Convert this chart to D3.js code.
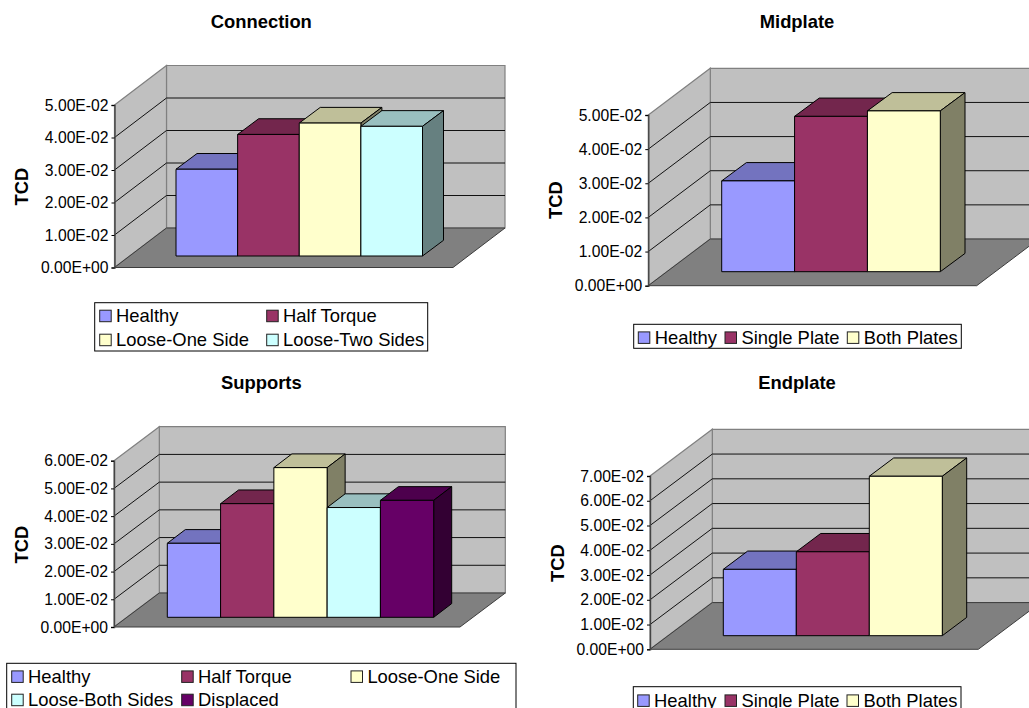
<!DOCTYPE html>
<html>
<head>
<meta charset="utf-8">
<script src="https://cdn.jsdelivr.net/npm/d3@7"></script>
<style>
  html, body { margin: 0; padding: 0; background: #fff; overflow: hidden; }
  svg { display: block; font-family: "Liberation Sans", Arial, sans-serif; }
</style>
</head>
<body>
<svg id="chart" width="1029" height="708"></svg>
<script>
// Total category distortion by fault type, one 3-D column panel per location.
const connectionCategories = ["Healthy", "Half Torque", "Loose-One Side", "Loose-Two Sides"];
const connectionValues = [0.0267, 0.0374, 0.0409, 0.0399];
const connectionTicks = [0, 0.01, 0.02, 0.03, 0.04, 0.05];

const midplateCategories = ["Healthy", "Single Plate", "Both Plates"];
const midplateValues = [0.0266, 0.0455, 0.0471];
const midplateTicks = [0, 0.01, 0.02, 0.03, 0.04, 0.05];

const supportsCategories = ["Healthy", "Half Torque", "Loose-One Side", "Loose-Both Sides", "Displaced"];
const supportsValues = [0.0267, 0.0410, 0.0540, 0.0396, 0.0422];
const supportsTicks = [0, 0.01, 0.02, 0.03, 0.04, 0.05, 0.06];

const endplateCategories = ["Healthy", "Single Plate", "Both Plates"];
const endplateValues = [0.0268, 0.0339, 0.0644];
const endplateTicks = [0, 0.01, 0.02, 0.03, 0.04, 0.05, 0.06, 0.07];

const seriesColors = ["#9999FF", "#993366", "#FFFFCC", "#CCFFFF", "#660066"];

// Frame geometry for each panel; values come from the arrays above.
const panels = [
  { title: "Connection", categories: connectionCategories, values: connectionValues, ticks: connectionTicks,
    frame: { left: 114.5, right: 453, bottom: 267.5, top: 105, dx: 52, dy: 39.5 },
    bars: { left: 161, right: 407.5, base: 256, dx: 21, dy: 15.7, shift: 15 },
    titleAt: [261.3, 27.7], axisLabelAt: [28, 186.7],
    legend: { box: [94.7, 302.7, 333, 48.3], swatchX: [99.7, 266.7], rowY: [316, 340], cols: 2 } },
  { title: "Midplate", categories: midplateCategories, values: midplateValues, ticks: midplateTicks,
    frame: { left: 648.3, right: 976.7, bottom: 285.7, top: 115, dx: 62, dy: 46.7 },
    bars: { left: 703.1, right: 921.7, base: 271.7, dx: 24.7, dy: 18.3, shift: 18.6 },
    titleAt: [797, 27.7], axisLabelAt: [562, 200],
    legend: { box: [633.7, 324.3, 327.6, 24], swatchX: [638.3, 725, 847.3], rowY: [337.7], cols: 3 } },
  { title: "Supports", categories: supportsCategories, values: supportsValues, ticks: supportsTicks,
    frame: { left: 114, right: 460, bottom: 627, top: 460.7, dx: 45.3, dy: 34 },
    bars: { left: 155.3, right: 421.7, base: 617.3, dx: 18, dy: 13.7, shift: 12 },
    titleAt: [261.3, 389], axisLabelAt: [28, 544.7],
    legend: { box: [6.7, 663.3, 509.3, 60], swatchX: [11.7, 181.7, 351], rowY: [676.7, 700], cols: 3 } },
  { title: "Endplate", categories: endplateCategories, values: endplateValues, ticks: endplateTicks,
    frame: { left: 650, right: 978.3, bottom: 649.3, top: 476, dx: 62.3, dy: 46.7 },
    bars: { left: 704.7, right: 923.7, base: 635.7, dx: 24.4, dy: 18.3, shift: 18.6 },
    titleAt: [797, 389], axisLabelAt: [564, 563],
    legend: { box: [633.3, 686.7, 327.7, 40], swatchX: [637.7, 725, 847], rowY: [700.7], cols: 3 } }
];

const svg = d3.select("#chart");
const polyPath = pts => "M" + pts.map(p => p.join(",")).join("L") + "Z";

// "5.00e-2" -> "5.00E-02"
function sciLabel(v) {
  const [m, e] = v.toExponential(2).split("e");
  const sign = e[0] === "-" ? "-" : "+";
  return m + "E" + sign + e.replace(/[+-]/, "").padStart(2, "0");
}

function shade(color, k) {
  const c = d3.rgb(color);
  return d3.rgb(c.r * k, c.g * k, c.b * k).formatHex();
}

function drawPanel(p) {
  const g = svg.append("g").attr("class", "panel");
  const f = p.frame, b = p.bars;
  const maxTick = d3.max(p.ticks);
  const y = d3.scaleLinear().domain([0, maxTick]).range([f.bottom, f.top]);

  // Back wall, side wall and floor.
  g.append("path")
    .attr("d", polyPath([[f.left + f.dx, f.top - f.dy], [f.right + f.dx, f.top - f.dy],
                         [f.right + f.dx, f.bottom - f.dy], [f.left + f.dx, f.bottom - f.dy]]))
    .attr("fill", "#C0C0C0").attr("stroke", "#808080").attr("stroke-width", 1.2);
  g.append("path")
    .attr("d", polyPath([[f.left, f.top], [f.left + f.dx, f.top - f.dy],
                         [f.left + f.dx, f.bottom - f.dy], [f.left, f.bottom]]))
    .attr("fill", "#C0C0C0").attr("stroke", "#808080").attr("stroke-width", 1.2);
  g.append("path")
    .attr("d", polyPath([[f.left, f.bottom], [f.left + f.dx, f.bottom - f.dy],
                         [f.right + f.dx, f.bottom - f.dy], [f.right, f.bottom]]))
    .attr("fill", "#808080").attr("stroke", "#3c3c3c").attr("stroke-width", 1);

  // Gridlines run along the side wall and across the back wall.
  const inner = p.ticks.filter(t => t > 0 && t < maxTick);
  g.selectAll("path.grid").data(inner).join("path")
    .attr("class", "grid")
    .attr("d", t => `M${f.left},${y(t)}L${f.left + f.dx},${y(t) - f.dy}L${f.right + f.dx},${y(t) - f.dy}`)
    .attr("fill", "none").attr("stroke", "#111").attr("stroke-width", 1);

  // Columns are painted left to right so each front covers its neighbour's side.
  const x = d3.scaleBand().domain(p.categories).range([b.left, b.right]).padding(0);
  const lift = f.bottom - b.base;
  p.categories.forEach((cat, i) => {
    const color = seriesColors[i];
    const x0 = x(cat) + b.shift, x1 = x0 + x.bandwidth();
    const top = y(p.values[i]) - lift, base = b.base;
    const bar = g.append("g").attr("class", "bar")
      .attr("stroke", "#000").attr("stroke-width", 1).attr("stroke-linejoin", "round");
    bar.append("path")
      .attr("d", polyPath([[x0, top], [x0 + b.dx, top - b.dy], [x1 + b.dx, top - b.dy], [x1, top]]))
      .attr("fill", shade(color, 0.75));
    bar.append("path")
      .attr("d", polyPath([[x1, top], [x1 + b.dx, top - b.dy], [x1 + b.dx, base - b.dy], [x1, base]]))
      .attr("fill", shade(color, 0.5));
    bar.append("path")
      .attr("d", polyPath([[x0, top], [x1, top], [x1, base], [x0, base]]))
      .attr("fill", color);
  });

  // Value axis along the front edge of the side wall.
  const axis = d3.axisLeft(y).tickValues(p.ticks).tickFormat(sciLabel).tickSize(3).tickPadding(3);
  const ag = g.append("g").attr("transform", `translate(${f.left},0)`).call(axis);
  ag.select(".domain").attr("stroke", "#444").attr("stroke-width", 1.4);
  ag.selectAll(".tick line").attr("stroke", "#000");
  ag.selectAll(".tick text").attr("font-size", 15.7).attr("fill", "#000")
    .attr("font-family", '"Liberation Sans", Arial, sans-serif');

  // Title and axis label.
  g.append("text").attr("x", p.titleAt[0]).attr("y", p.titleAt[1])
    .attr("text-anchor", "middle").attr("font-size", 18.4).attr("font-weight", "bold").text(p.title);
  g.append("text")
    .attr("transform", `translate(${p.axisLabelAt[0]},${p.axisLabelAt[1]}) rotate(-90)`)
    .attr("text-anchor", "middle").attr("font-size", 18.4).attr("font-weight", "bold").text("TCD");

  // Legend.
  const l = p.legend;
  g.append("rect")
    .attr("x", l.box[0]).attr("y", l.box[1]).attr("width", l.box[2]).attr("height", l.box[3])
    .attr("fill", "#fff").attr("stroke", "#000").attr("stroke-width", 1);
  p.categories.forEach((cat, i) => {
    const sx = l.swatchX[i % l.cols];
    const cy = l.rowY[Math.floor(i / l.cols)];
    g.append("rect")
      .attr("x", sx).attr("y", cy - 5.8).attr("width", 11.5).attr("height", 11.5)
      .attr("fill", seriesColors[i]).attr("stroke", "#222").attr("stroke-width", 1);
    g.append("text")
      .attr("x", sx + 16.4).attr("y", cy + 6.4)
      .attr("font-size", 18.4).attr("fill", "#000").text(cat);
  });
}

panels.forEach(drawPanel);
</script>
</body>
</html>
